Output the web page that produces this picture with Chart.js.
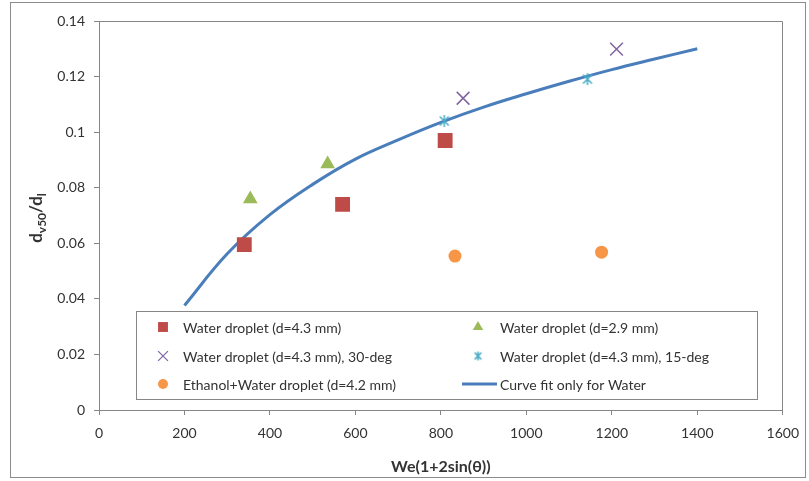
<!DOCTYPE html>
<html>
<head>
<meta charset="utf-8">
<script src="https://cdn.jsdelivr.net/npm/chart.js@4.4.1/dist/chart.umd.min.js"></script>
<style>
  html, body { margin: 0; padding: 0; background: #fff; }
  #wrap { position: relative; width: 809px; height: 481px; }
  #frame { position: absolute; left: 10px; top: 2px; width: 796px; height: 476px;
           border: 1px solid #8c8c8c; box-sizing: border-box; pointer-events: none; }
</style>
</head>
<body>
<div id="wrap">
  <canvas id="chart" width="809" height="481"></canvas>
  <div id="frame"></div>
</div>
<script>
// data
const water43X = [340, 570, 810];
const water43Y = [0.0595, 0.074, 0.097];

const water29X = [354, 535];
const water29Y = [0.0759, 0.0885];

const deg30X = [852, 1211];
const deg30Y = [0.1122, 0.1299];

const deg15X = [808, 1143];
const deg15Y = [0.104, 0.1191];

const ethanolX = [833, 1176];
const ethanolY = [0.0554, 0.0568];

const fitX = [200, 300, 400, 500, 600, 700, 800, 900, 1000, 1100, 1200, 1300, 1400];
const fitY = [0.0376, 0.0562, 0.0703, 0.0812, 0.0903, 0.0972, 0.1035, 0.109, 0.1138, 0.1183, 0.1225, 0.1263, 0.130];

const seriesNames = [
  'Water droplet (d=4.3 mm)',
  'Water droplet (d=2.9 mm)',
  'Water droplet (d=4.3 mm), 30-deg',
  'Water droplet (d=4.3 mm), 15-deg',
  'Ethanol+Water droplet (d=4.2 mm)',
  'Curve fit only for Water'
];

const xTicks = { min: 0, max: 1600, step: 200 };
const yTicks = { min: 0, max: 0.14, step: 0.02 };

const FONT = "Lato, 'Open Sans', sans-serif";
const TEXT = '#333333';
const AXIS = '#868686';

const pts = (xs, ys) => xs.map((x, i) => ({ x: x, y: ys[i] }));

// Excel style asterisk marker (vertical bar + X)
function starMarker(size, color) {
  const c = document.createElement('canvas');
  c.width = size; c.height = size;
  const g = c.getContext('2d');
  const m = size / 2, r = size / 2 - 1, d = r * 0.75;
  g.strokeStyle = color;
  g.lineWidth = 1.5;
  g.beginPath();
  g.moveTo(m, m - r); g.lineTo(m, m + r);
  g.moveTo(m - d, m - d); g.lineTo(m + d, m + d);
  g.moveTo(m + d, m - d); g.lineTo(m - d, m + d);
  g.stroke();
  return c;
}

const starBig = starMarker(14, '#4BACC6');
const starSmall = starMarker(11, '#4BACC6');

const datasets = [
  { label: seriesNames[0], data: pts(water43X, water43Y), showLine: false,
    pointStyle: 'rect', pointRadius: 10.5, backgroundColor: '#BE4B48', borderColor: '#BE4B48', borderWidth: 0 },
  { label: seriesNames[1], data: pts(water29X, water29Y), showLine: false,
    pointStyle: 'triangle', pointRadius: 8.5, backgroundColor: '#9BBB59', borderColor: '#9BBB59', borderWidth: 0 },
  { label: seriesNames[2], data: pts(deg30X, deg30Y), showLine: false,
    pointStyle: 'crossRot', pointRadius: 9, backgroundColor: '#8064A2', borderColor: '#8064A2', borderWidth: 1.5 },
  { label: seriesNames[3], data: pts(deg15X, deg15Y), showLine: false,
    pointStyle: starBig, pointRadius: 7, backgroundColor: '#4BACC6', borderColor: '#4BACC6', borderWidth: 0 },
  { label: seriesNames[4], data: pts(ethanolX, ethanolY), showLine: false,
    pointStyle: 'circle', pointRadius: 6.5, backgroundColor: '#F79646', borderColor: '#F79646', borderWidth: 0 },
  { label: seriesNames[5], data: pts(fitX, fitY), showLine: true, pointRadius: 0,
    borderColor: '#4A7EBB', borderWidth: 3, tension: 0.4, fill: false }
];

// legend entries in the order they appear (3 rows x 2 columns)
const legendMarks = [
  { pointStyle: 'rect', radius: 7, color: '#BE4B48', bw: 0 },
  { pointStyle: 'triangle', radius: 6, color: '#9BBB59', bw: 0 },
  { pointStyle: 'crossRot', radius: 7, color: '#8064A2', bw: 1.2 },
  { pointStyle: starSmall, radius: 5, color: '#4BACC6', bw: 0 },
  { pointStyle: 'circle', radius: 5, color: '#F79646', bw: 0 },
  { line: true, color: '#4A7EBB' }
];

const overlay = {
  id: 'overlay',
  afterDraw(chart) {
    const { ctx, chartArea: a } = chart;
    ctx.save();

    // plot area frame (top and right edges)
    ctx.strokeStyle = AXIS;
    ctx.lineWidth = 1;
    ctx.beginPath();
    ctx.moveTo(Math.round(a.left) + 0.5, Math.round(a.top) + 0.5);
    ctx.lineTo(Math.round(a.right) - 0.5, Math.round(a.top) + 0.5);
    ctx.lineTo(Math.round(a.right) - 0.5, Math.round(a.bottom));
    ctx.stroke();

    // y axis title with subscripts
    ctx.translate(37, 218);
    ctx.rotate(-Math.PI / 2);
    const parts = [
      { t: 'd', f: 'bold 17px ' + FONT, dy: 0 },
      { t: 'v50', f: 'bold 12px ' + FONT, dy: 5 },
      { t: '/d', f: 'bold 17px ' + FONT, dy: 0 },
      { t: 'l', f: 'bold 12px ' + FONT, dy: 5 }
    ];
    let total = 0;
    parts.forEach(p => { ctx.font = p.f; total += ctx.measureText(p.t).width; });
    let px = -total / 2;
    ctx.fillStyle = TEXT;
    ctx.textBaseline = 'middle';
    ctx.textAlign = 'left';
    parts.forEach(p => {
      ctx.font = p.f;
      ctx.fillText(p.t, px, p.dy);
      px += ctx.measureText(p.t).width;
    });
    ctx.restore();

    // legend box inside the plot
    ctx.save();
    const box = { x: 136, y: 311, w: 621, h: 88 };
    ctx.fillStyle = '#ffffff';
    ctx.fillRect(box.x, box.y, box.w, box.h);
    ctx.strokeStyle = AXIS;
    ctx.lineWidth = 1;
    ctx.strokeRect(box.x + 0.5, box.y + 0.5, box.w, box.h);

    const colMark = [163, 478];
    const colText = [183, 500];
    const rowY = [327, 356, 384];
    ctx.font = '14px ' + FONT;
    ctx.textBaseline = 'middle';
    ctx.textAlign = 'left';
    seriesNames.forEach((name, i) => {
      const col = i % 2, row = Math.floor(i / 2);
      const m = legendMarks[i];
      const y = rowY[row];
      ctx.fillStyle = m.color;
      ctx.strokeStyle = m.color;
      if (m.line) {
        ctx.lineWidth = 3;
        ctx.beginPath();
        ctx.moveTo(colMark[col] - 16, y);
        ctx.lineTo(colText[col] - 3, y);
        ctx.stroke();
      } else {
        ctx.lineWidth = m.bw;
        Chart.helpers.drawPoint(ctx, { pointStyle: m.pointStyle, radius: m.radius, rotation: 0, borderWidth: m.bw }, colMark[col], y);
      }
      ctx.fillStyle = TEXT;
      ctx.fillText(name, colText[col], y + 1);
    });
    ctx.restore();
  }
};

new Chart(document.getElementById('chart'), {
  type: 'scatter',
  data: { datasets: datasets },
  options: {
    responsive: false,
    animation: false,
    layout: { padding: { left: 0, right: 23, top: 21, bottom: 0 } },
    plugins: { legend: { display: false }, tooltip: { enabled: false } },
    scales: {
      x: {
        type: 'linear',
        min: xTicks.min, max: xTicks.max,
        afterFit: s => { s.height = 71; },
        ticks: { stepSize: xTicks.step, color: TEXT, font: { family: FONT, size: 14 }, padding: 10,
                 callback: v => String(v) },
        grid: { drawOnChartArea: false, drawTicks: true, tickLength: 5, color: AXIS },
        border: { color: AXIS, width: 1 },
        title: { display: true, text: 'We(1+2sin(\u03B8))', color: TEXT,
                 font: { family: FONT, size: 16, weight: 'bold' }, padding: { top: 0, bottom: 5 } }
      },
      y: {
        type: 'linear',
        min: yTicks.min, max: yTicks.max,
        afterFit: s => { s.width = 99; },
        ticks: { stepSize: yTicks.step, color: TEXT, font: { family: FONT, size: 14 }, padding: 9,
                 callback: v => String(parseFloat(v.toFixed(2))) },
        grid: { drawOnChartArea: false, drawTicks: true, tickLength: 5, color: AXIS },
        border: { color: AXIS, width: 1 }
      }
    }
  },
  plugins: [overlay]
});
</script>
</body>
</html>
